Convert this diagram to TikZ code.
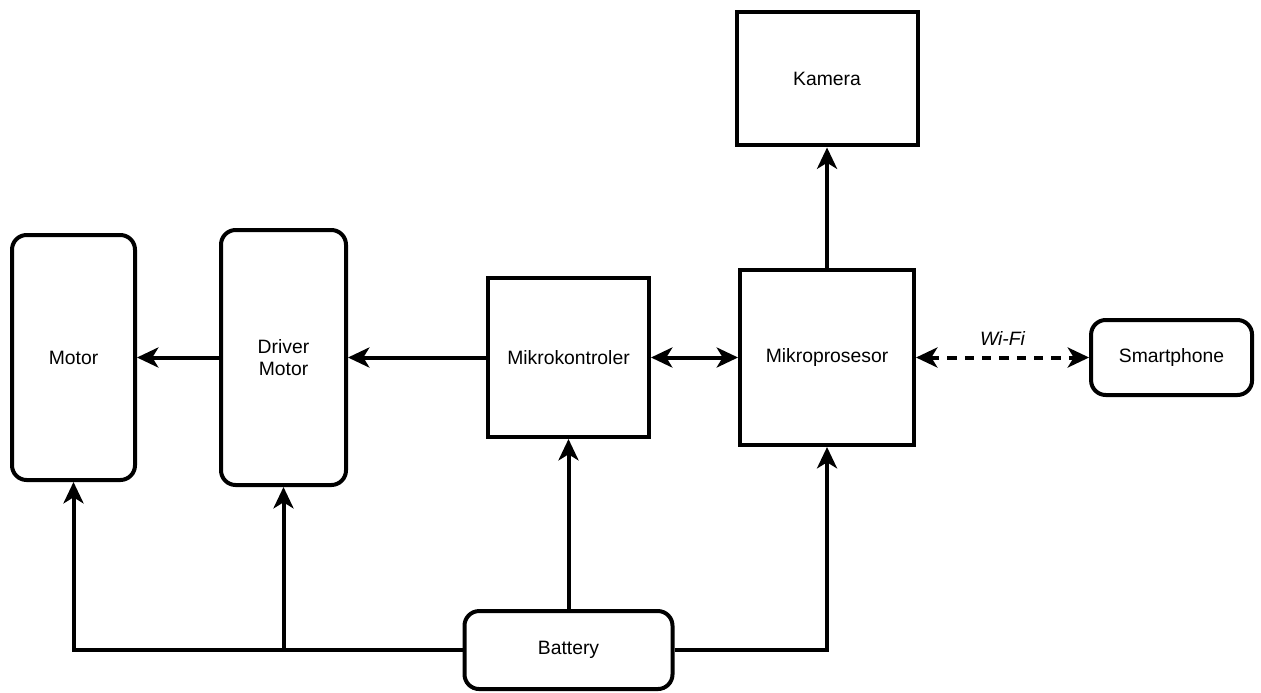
\documentclass[tikz,border=0pt]{standalone}
\usepackage{fontspec}
\setmainfont{Liberation Sans}
\usetikzlibrary{positioning, arrows.meta}
\tikzset{
>={Stealth[length=16pt, width=15pt, inset=4.5pt]}, % bold arrow heads
line width=3pt,
block/.style={draw, line width=3pt, inner sep=0pt, align=center, font=\fontsize{14.5}{17}\selectfont}, % plain box
rblock/.style={block, rounded corners=11pt}, % rounded box
}

\begin{document}
\begin{tikzpicture}[x=0.75pt, y=-0.75pt, line width=3pt]
        \useasboundingbox (0,0) rectangle (1261,693);

        \node[rblock, minimum width=92.25pt, minimum height=183.75pt] (mot) at (73.5,357.5) {Motor};
        \node[rblock, right of=mot, node distance=157.5pt, minimum width=93.75pt, minimum height=191.25pt] (drv) {Driver\\Motor};
        \node[block, right of=drv, node distance=213.75pt, minimum width=120.75pt, minimum height=119.25pt] (mk) {Mikrokontroler};
        \node[block, right of=mk, node distance=193.9pt, minimum width=130.5pt, minimum height=131.25pt] (mp) {Mikroprosesor};
        \node[block, above of=mp, node distance=208.9pt, minimum width=135.75pt, minimum height=99.75pt] (cam) {Kamera};
        \node[rblock, right of=mp, node distance=258.4pt, minimum width=120.75pt, minimum height=56.25pt] (sp) {Smartphone};
        \node[rblock, below of=mk, node distance=219.4pt, minimum width=156pt, minimum height=58.5pt] (bat) {Battery};

        \draw[->] (drv) -- (mot);
        \draw[->] (mk) -- (drv);
        \draw[<->] (mk) -- (mp);
        \draw[->] (mp) -- (cam);
        \draw[<->, dash pattern=on 7pt off 6pt] (mp) -- node[above=4pt, font=\itshape\fontsize{14.5}{17}\selectfont]{Wi-Fi} (sp);
        \draw[->] (bat) -- (mk);
        \draw[->] (bat.west) -| (mot.south);
        \draw[->] (bat.west) -| (drv.south);
        \draw[->] (bat.east) -| (mp.south);
      \end{tikzpicture}
\end{document}
